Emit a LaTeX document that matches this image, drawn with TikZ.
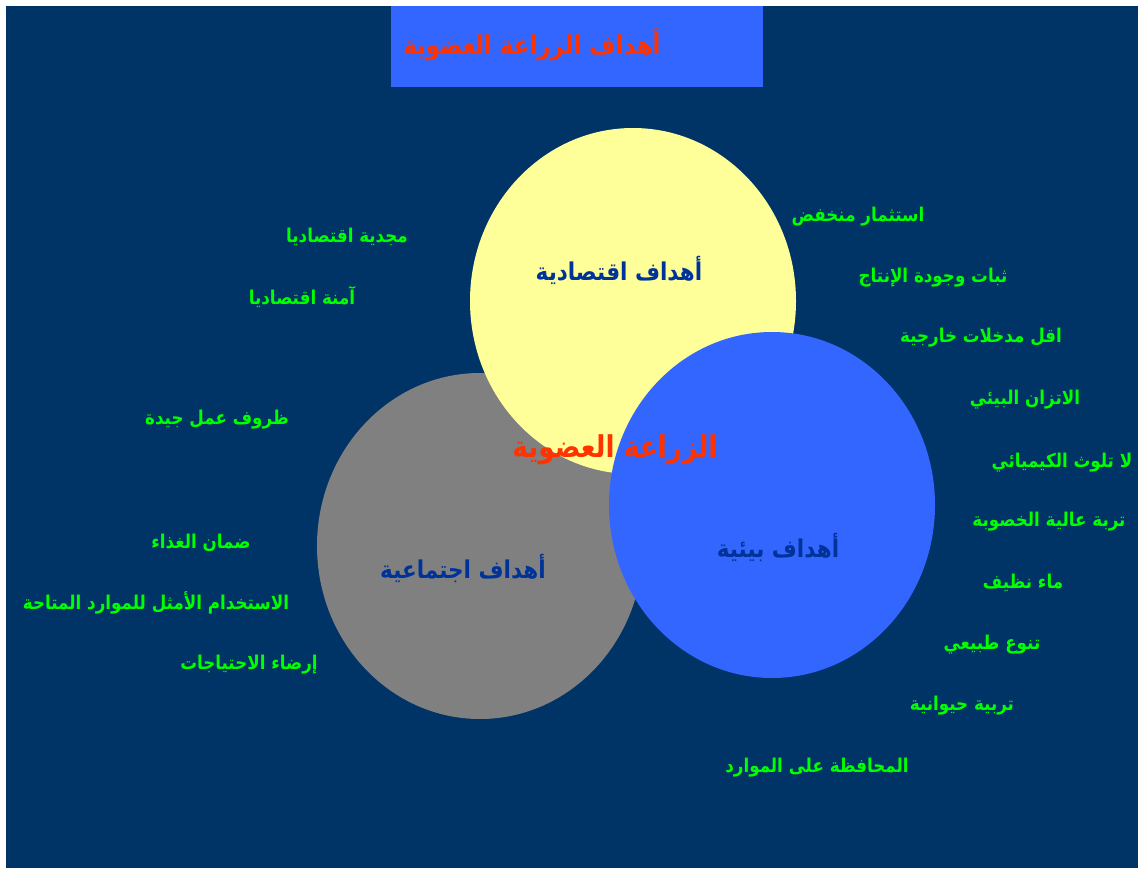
\documentclass[tikz,border=0pt]{standalone}
\usepackage{fontspec}
\usepackage{tikz}
\usetikzlibrary{positioning}
\newfontfamily\arabicfont[Script=Arabic,FakeStretch=0.88]{DejaVu Sans}
\TeXXeTstate=1
\definecolor{navybg}{HTML}{003366}
\definecolor{titleblue}{HTML}{3366FF}
\definecolor{softyellow}{HTML}{FFFF99}
\definecolor{midgray}{HTML}{808080}
\definecolor{goalgreen}{HTML}{00FF00}
\definecolor{labelblue}{HTML}{003399}
\definecolor{redtext}{HTML}{FF3300}
\newcommand{\artxt}[1]{\beginR #1\endR}

\begin{document}
\begin{tikzpicture}[x=1pt, y=-1pt,
	goal/.style={text=goalgreen, inner sep=0pt, font=\arabicfont\bfseries\fontsize{19}{22}\selectfont},
	circlab/.style={text=labelblue, inner sep=0pt, font=\arabicfont\bfseries\fontsize{24.5}{28}\selectfont},
	redlab/.style={text=redtext, inner sep=0pt, font=\arabicfont\bfseries\fontsize{26}{30}\selectfont}]
		\pgfmathsetmacro{\rx}{163}
		\pgfmathsetmacro{\ry}{173}
		% background and title
		\fill[white] (0,0) rectangle (1140,870);
		\fill[navybg] (6,6) rectangle (1138,868);
		\fill[titleblue] (391,6) rectangle (763,87);
		\node[redlab] (title) at (532,45) {\artxt{أهداف الزراعة العضوية}};
		
		% the three circles
		\fill[midgray] (480,546) ellipse [x radius=\rx, y radius=\ry];
		\fill[softyellow] (633,301) ellipse [x radius=\rx, y radius=\ry];
		\fill[titleblue] (772,505) ellipse [x radius=\rx, y radius=\ry];
		
		\node[circlab] (econ) at (619,270) {\artxt{أهداف اقتصادية}};
		\node[circlab] (social) at (463,568) {\artxt{أهداف اجتماعية}};
		\node[circlab] (env) at (778,547) {\artxt{أهداف بيئية}};
		\node[redlab, font=\arabicfont\bfseries\fontsize{30}{34}\selectfont] (core) at (615,450) {\artxt{الزراعة العضوية}};
		
		% left side goals
		\node[goal] (g1) at (347,237) {\artxt{مجدية اقتصاديا}};
		\node[goal] (g2) at (302,297) {\artxt{آمنة اقتصاديا}};
		\node[goal] (g3) at (217,420) {\artxt{ظروف عمل جيدة}};
		\node[goal] (g4) at (201,543) {\artxt{ضمان الغذاء}};
		\node[goal] (g5) at (156,603) {\artxt{الاستخدام الأمثل للموارد المتاحة}};
		\node[goal] (g6) at (249,665) {\artxt{إرضاء الاحتياجات}};
		
		% right side goals
		\node[goal] (h1) at (858,217) {\artxt{استثمار منخفض}};
		\node[goal] (h2) at (933,278) {\artxt{ثبات وجودة الإنتاج}};
		\node[goal] (h3) at (981,338) {\artxt{اقل مدخلات خارجية}};
		\node[goal] (h4) at (1025,400) {\artxt{الاتزان البيئي}};
		\node[goal] (h5) at (1062,463) {\artxt{لا تلوث الكيميائي}};
		\node[goal] (h6) at (1049,522) {\artxt{تربة عالية الخصوبة}};
		\node[goal] (h7) at (1023,583) {\artxt{ماء نظيف}};
		\node[goal] (h8) at (992,645) {\artxt{تنوع طبيعي}};
		\node[goal] (h9) at (962,706) {\artxt{تربية حيوانية}};
		\node[goal] (h10) at (817,768) {\artxt{المحافظة على الموارد}};
\end{tikzpicture}
\end{document}
